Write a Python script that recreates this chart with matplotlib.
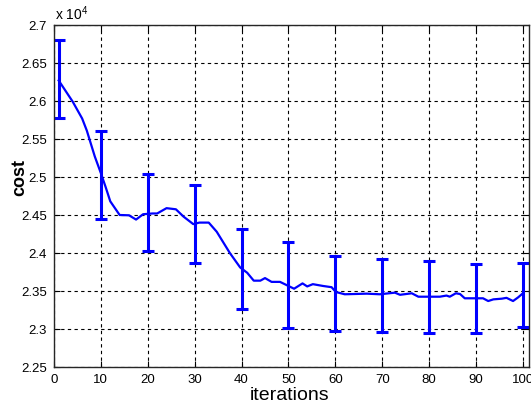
import numpy as np
import matplotlib
matplotlib.use("Agg")
import matplotlib.pyplot as plt
from matplotlib.ticker import FuncFormatter

plt.rcParams['font.family'] = ['Liberation Sans', 'DejaVu Sans']
plt.rcParams['mathtext.default'] = 'regular'

# mean cost curve (values in units of 1e4)
iters = [1, 4, 6, 7, 8.7, 10, 11, 12, 14, 16, 17.5, 19, 21, 22, 24, 26, 27.6,
         29.7, 31, 33, 34.7, 37.5, 39.7, 41.2, 42.6, 44, 45, 46.4, 48.2, 50,
         51.2, 53, 54, 55.2, 57.4, 59.2, 60.1, 62, 66.7, 69.5, 72.7, 73.8,
         76.3, 77.7, 82.3, 83.7, 84.4, 85.7, 86.6, 87.6, 91.5, 92.6, 93.7,
         95.5, 96.5, 97.9, 99, 100]
cost = [2.627, 2.599, 2.577, 2.561, 2.527, 2.505, 2.487, 2.468, 2.450, 2.4496,
        2.444, 2.451, 2.452, 2.452, 2.459, 2.4575, 2.448, 2.438, 2.440, 2.440,
        2.428, 2.400, 2.381, 2.374, 2.3636, 2.3636, 2.367, 2.362, 2.362, 2.3566,
        2.353, 2.360, 2.356, 2.359, 2.3566, 2.355, 2.3487, 2.3457, 2.3465,
        2.3457, 2.3478, 2.345, 2.347, 2.3425, 2.3425, 2.344, 2.3425, 2.347,
        2.346, 2.3404, 2.3404, 2.3368, 2.339, 2.3399, 2.341, 2.3368, 2.3417,
        2.347]

# error bars
err_x = [1, 10, 20, 30, 40, 50, 60, 70, 80, 90, 100]
err_mean = [2.629, 2.503, 2.453, 2.438, 2.3785, 2.3575, 2.347, 2.344, 2.342, 2.340, 2.345]
err_half = [0.051, 0.058, 0.051, 0.051, 0.0525, 0.0565, 0.049, 0.048, 0.047, 0.045, 0.042]

scale = 1e4
cost = np.array(cost) * scale
err_mean = np.array(err_mean) * scale
err_half = np.array(err_half) * scale

fig = plt.figure(figsize=(5.31, 4.08), dpi=100)
ax = fig.add_axes([54 / 531, 1 - 367 / 408, (529 - 54) / 531, (367 - 25) / 408])

ax.plot(iters, cost, color='#0000ff', lw=1.6)
ax.errorbar(err_x, err_mean, yerr=err_half, fmt='none', ecolor='#0000ff',
            elinewidth=2.2, capsize=4, capthick=2.2)

ax.set_xlim(0, 101.3)
ax.set_ylim(2.25 * scale, 2.7 * scale)
ax.set_xticks(np.arange(0, 101, 10))
ax.set_yticks(np.arange(2.25, 2.701, 0.05) * scale)
ax.yaxis.set_major_formatter(FuncFormatter(lambda v, p: ('%.2f' % (v / scale)).rstrip('0').rstrip('.')))

ax.grid(True, color='black', linestyle=(0, (3, 3)), linewidth=0.8)
ax.tick_params(direction='in', length=4, labelsize=9.5, top=True, right=True,
               colors='black', pad=5)
for s in ax.spines.values():
    s.set_color('#262626')
    s.set_linewidth(1.0)

fig.text(55 / 531, 1 - 20 / 408, r'x 10$^{4}$', fontsize=10, ha='left', va='baseline')
fig.text(20 / 531, 1 - 178 / 408, 'cost', fontsize=13, fontweight='bold',
         rotation=90, ha='center', va='center')
fig.text(290 / 531, 1 - 396 / 408, 'iterations', fontsize=14, ha='center', va='center')

fig.savefig('out.png', dpi=100)
